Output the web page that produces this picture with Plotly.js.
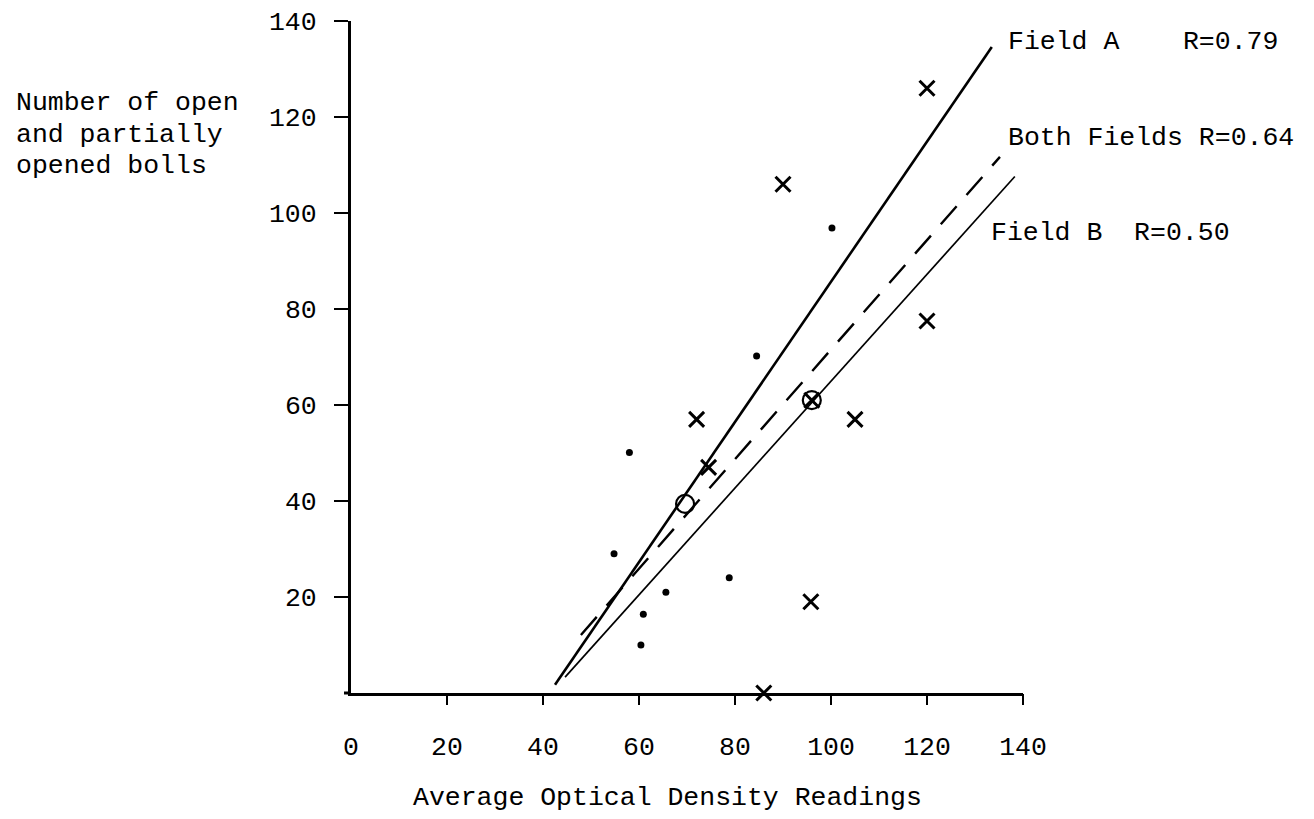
<!DOCTYPE html>
<html>
<head>
<meta charset="utf-8">
<script src="https://cdn.plot.ly/plotly-3.0.1.min.js"></script>
<style>html,body{margin:0;padding:0;background:#fff;}</style>
</head>
<body>
<div id="chart" style="width:1314px;height:819px;"></div>
<script>
// ---- data ----
var xTickVals = [0, 20, 40, 60, 80, 100, 120, 140];
var xTickMarks = [20, 40, 60, 80, 100, 120, 140];
var yTickVals = [20, 40, 60, 80, 100, 120, 140];

// Field A observations (X marks)
var fieldA_x = [120, 90, 120, 72, 105, 74.5, 96, 95.8, 86];
var fieldA_y = [126, 106, 77.5, 57, 57, 47, 61, 19, 0];

// Field B observations (dots)
var fieldB_x = [100.2, 84.5, 58.0, 54.8, 78.8, 65.6, 60.9, 60.4];
var fieldB_y = [96.9, 70.2, 50.1, 29.0, 24.0, 21.0, 16.4, 10.0];

// circled observations
var circled_x = [69.6, 96.0];
var circled_y = [39.4, 61.0];

// regression lines (end points as drawn)
var lineA_x = [42.5, 133.5];
var lineA_y = [1.7, 134.6];
var lineBoth_x = [47.9, 135.2];
var lineBoth_y = [12.1, 111.7];
var lineB_x = [44.6, 138.3];
var lineB_y = [3.3, 107.6];

var labelA = "Field A\u00a0\u00a0\u00a0\u00a0R=0.79";
var labelBoth = "Both Fields R=0.64";
var labelB = "Field B\u00a0\u00a0R=0.50";
var yTitleLines = ["Number of open", "and partially", "opened bolls"];
var xTitle = "Average Optical Density Readings";

// ---- drawing ----
var FONT = "Liberation Mono, DejaVu Sans Mono, monospace";
var FS = 26.5;

var traces = [
  {x: lineA_x, y: lineA_y, mode: "lines", line: {color: "#000", width: 2.6}, hoverinfo: "skip", name: "Field A"},
  {x: lineBoth_x, y: lineBoth_y, mode: "lines", line: {color: "#000", width: 2.4, dash: "24px,15px"}, hoverinfo: "skip", name: "Both Fields"},
  {x: lineB_x, y: lineB_y, mode: "lines", xaxis: "x2", line: {color: "#000", width: 1.7}, hoverinfo: "skip", name: "Field B"},
  {x: fieldA_x, y: fieldA_y, mode: "markers", cliponaxis: false, name: "Field A points",
   marker: {symbol: "x-thin-open", size: 15, color: "#000", line: {color: "#000", width: 3}}},
  {x: fieldB_x, y: fieldB_y, mode: "markers", cliponaxis: false, name: "Field B points",
   marker: {symbol: "circle", size: 7, color: "#000"}},
  {x: circled_x, y: circled_y, mode: "markers", cliponaxis: false, name: "circled",
   marker: {symbol: "circle-open", size: 18, color: "#000", line: {color: "#000", width: 2.2}}}
];

var W = 672; // plot size in px (both axes)
function px(p) { return (p - 351) / W; }
function py(p) { return (693 - p) / W; }

var ann = [];
function addText(t, xp, yp, anchor) {
  ann.push({text: t, xref: "paper", yref: "paper", x: px(xp), y: py(yp),
    xanchor: anchor || "left", yanchor: "middle", showarrow: false,
    font: {family: FONT, size: FS, color: "#000"}});
}
addText(labelA, 1006, 42);
addText(labelBoth, 1006, 138);
addText(labelB, 989, 233);
addText(yTitleLines[0], 14, 103);
addText(yTitleLines[1], 14, 135);
addText(yTitleLines[2], 14, 166);
addText(xTitle, 411, 798);

var layout = {
  width: 1314, height: 819, autosize: false,
  margin: {l: 351, r: 291, t: 21, b: 126, pad: 0},
  paper_bgcolor: "#fff", plot_bgcolor: "#fff",
  showlegend: false,
  font: {family: FONT, size: FS, color: "#000"},
  xaxis: {
    range: [0, 140], showgrid: false, zeroline: false,
    showline: true, linecolor: "#000", linewidth: 3,
    tickmode: "array", tickvals: xTickVals, ticks: "",
    ticklabelstandoff: 27,
    tickfont: {family: FONT, size: FS, color: "#000"}
  },
  xaxis2: {
    overlaying: "x", anchor: "y", side: "bottom", matches: "x",
    range: [0, 140], showgrid: false, zeroline: false, showline: false,
    tickmode: "array", tickvals: xTickMarks, ticks: "outside",
    ticklen: 11, tickwidth: 2.5, tickcolor: "#000", showticklabels: false
  },
  yaxis: {
    range: [0, 140], showgrid: false, zeroline: false,
    showline: true, linecolor: "#000", linewidth: 3,
    tickmode: "array", tickvals: yTickVals, ticks: "outside",
    ticklen: 14, tickwidth: 2.5, tickcolor: "#000",
    ticklabelstandoff: 12,
    tickfont: {family: FONT, size: FS, color: "#000"}
  },
  shapes: [
    {type: "line", xref: "paper", yref: "paper", x0: -7 / W, x1: 0, y0: 0, y1: 0,
     line: {color: "#000", width: 3}}
  ],
  annotations: ann
};

Plotly.newPlot("chart", traces, layout, {staticPlot: true, displayModeBar: false});
</script>
</body>
</html>
